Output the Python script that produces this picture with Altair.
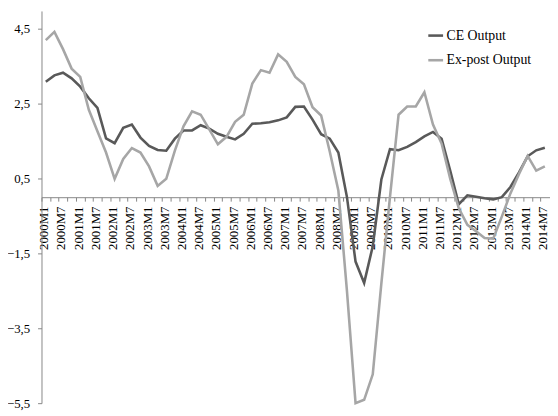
import json
import altair as alt
import pandas as pd

# Quarterly categories 2000M1 ... 2014M7
periods = []
for y in range(2000, 2015):
    for m in ("M1", "M4", "M7", "M10"):
        periods.append(f"{y}{m}")
periods = periods[:59]
tick_labels = [p if p.endswith("M1") or p.endswith("M7") else "" for p in periods]

ce_output = [3.08, 3.25, 3.32, 3.17, 2.95, 2.64, 2.38, 1.57, 1.44, 1.85,
             1.94, 1.59, 1.37, 1.26, 1.24, 1.56, 1.78, 1.78, 1.92, 1.83,
             1.69, 1.61, 1.54, 1.69, 1.96, 1.97, 2.00, 2.05, 2.13, 2.41,
             2.42, 2.07, 1.68, 1.56, 1.19, 0.00, -1.72, -2.29, -1.31, 0.47,
             1.28, 1.25, 1.34, 1.47, 1.62, 1.74, 1.56, 0.71, -0.19, 0.05,
             0.01, -0.03, -0.06, 0.00, 0.27, 0.66, 1.09, 1.25, 1.32]

expost_output = [4.19, 4.41, 3.95, 3.43, 3.21, 2.33, 1.76, 1.19, 0.49, 1.02,
                 1.31, 1.19, 0.82, 0.30, 0.49, 1.24, 1.89, 2.29, 2.20, 1.81,
                 1.41, 1.61, 2.01, 2.20, 3.03, 3.39, 3.32, 3.81, 3.61, 3.21,
                 3.01, 2.40, 2.18, 1.22, 0.18, -2.50, -5.50, -5.41, -4.73, -2.30,
                 0.00, 2.20, 2.42, 2.42, 2.80, 1.94, 1.43, 0.49, -0.30, -0.74,
                 -0.91, -1.09, -1.11, -0.52, 0.10, 0.62, 1.10, 0.71, 0.82]

series_names = ["CE Output", "Ex-post Output"]
series_colors = ["#595959", "#a6a6a6"]
y_ticks = [-5.5, -3.5, -1.5, 0.5, 2.5, 4.5]

rows = []
for name, vals in zip(series_names, [ce_output, expost_output]):
    for i, v in enumerate(vals):
        rows.append({"idx": i, "period": periods[i], "series": name, "value": v, "ord": series_names.index(name)})
df = pd.DataFrame(rows)

FONT = "Liberation Serif"
x_domain = [-0.5, 58.6]
step = 516 / (x_domain[1] - x_domain[0])

chart = alt.Chart(df).mark_line(strokeWidth=2.6).encode(
    x=alt.X("idx:Q",
            scale=alt.Scale(domain=x_domain, nice=False, zero=False),
            axis=alt.Axis(title=None, values=list(range(59)),
                          labelExpr=f"{json.dumps(tick_labels)}[datum.value]",
                          labelAngle=270, labelAlign="right", labelBaseline="middle",
                          labelFont=FONT, labelFontSize=13, labelColor="#000000",
                          labelPadding=5, labelOverlap=False, labelFlush=False,
                          tickOffset=-step / 2, labelOffset=step / 2 - 2,
                          tickSize=4, tickColor="#868686", domainColor="#868686",
                          offset=-209, grid=False)),
    y=alt.Y("value:Q",
            scale=alt.Scale(domain=[-5.5, 4.97], nice=False, zero=False),
            axis=alt.Axis(title=None, values=y_ticks,
                          labelExpr="replace(format(datum.value, '.1f'), '.', ',')",
                          labelFont=FONT, labelFontSize=13, labelColor="#000000",
                          labelPadding=8, tickSize=4, tickColor="#868686",
                          domainColor="#868686", grid=False)),
    color=alt.Color("series:N",
                    scale=alt.Scale(domain=series_names, range=series_colors),
                    legend=alt.Legend(title=None, orient="none", legendX=391, legendY=16,
                                      symbolType="stroke", symbolSize=225, symbolStrokeWidth=2.6,
                                      labelFont=FONT, labelFontSize=14, labelColor="#000000",
                                      labelOffset=2, rowPadding=9, padding=0)),
    order=alt.Order("ord:Q"),
).properties(
    width=516, height=398,
    autosize=alt.AutoSizeParams(type="none"),
    padding={"left": 34, "top": 0, "right": 0, "bottom": 8},
).configure_view(stroke=None)

chart.save("out.html", embed_options={"renderer": "svg", "actions": False})
